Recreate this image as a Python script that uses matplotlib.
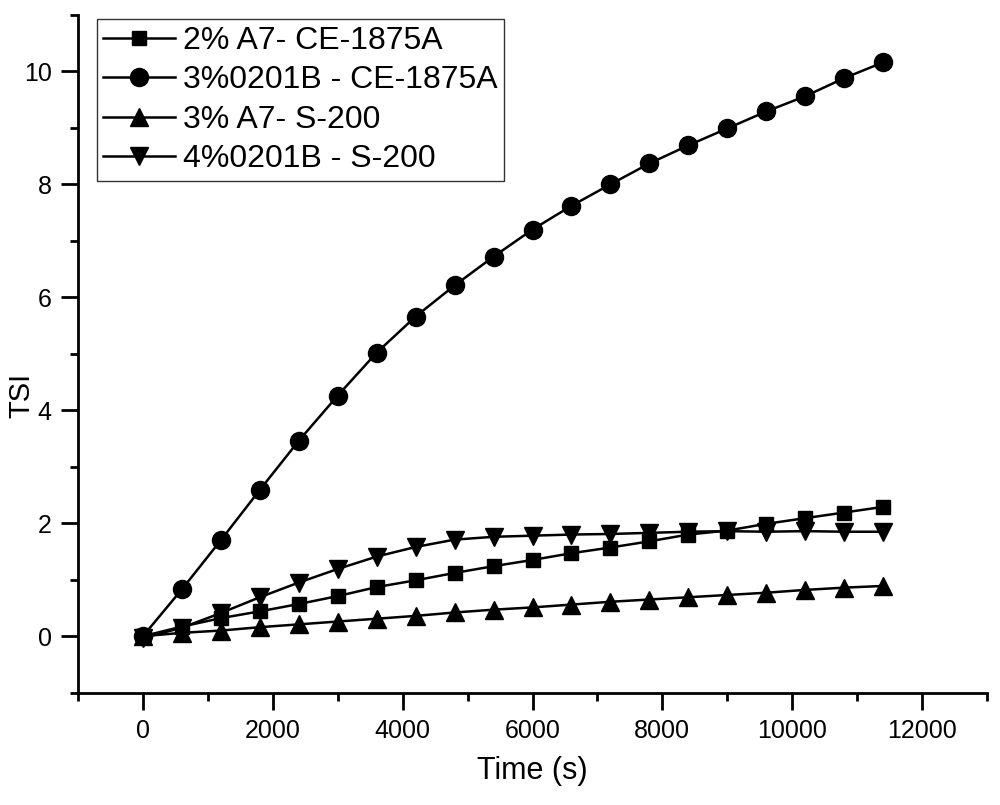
import matplotlib
matplotlib.use("Agg")
import matplotlib.pyplot as plt
from matplotlib.ticker import MultipleLocator

plt.rcParams['font.family'] = ['Liberation Sans', 'DejaVu Sans']

# time points (s)
t = [0, 600, 1200, 1800, 2400, 3000, 3600, 4200, 4800, 5400, 6000,
     6600, 7200, 7800, 8400, 9000, 9600, 10200, 10800, 11400]

# TSI values for each sample
a7_ce = [0, 0.17, 0.32, 0.44, 0.57, 0.71, 0.87, 0.99, 1.12, 1.24, 1.35,
         1.47, 1.57, 1.68, 1.80, 1.87, 1.99, 2.09, 2.19, 2.29]
b0201_ce = [0, 0.83, 1.70, 2.59, 3.46, 4.26, 5.02, 5.66, 6.21, 6.72, 7.20,
            7.62, 8.00, 8.37, 8.69, 8.99, 9.29, 9.56, 9.88, 10.16]
a7_s200 = [0, 0.06, 0.10, 0.16, 0.21, 0.26, 0.31, 0.36, 0.42, 0.47, 0.51,
           0.56, 0.61, 0.65, 0.69, 0.73, 0.77, 0.82, 0.86, 0.89]
b0201_s200 = [-0.03, 0.15, 0.41, 0.69, 0.95, 1.19, 1.41, 1.58, 1.71, 1.76, 1.78,
              1.80, 1.81, 1.83, 1.85, 1.86, 1.85, 1.86, 1.85, 1.85]

labels = ["2% A7- CE-1875A", "3%0201B - CE-1875A", "3% A7- S-200", "4%0201B - S-200"]

fig = plt.figure(figsize=(10, 8.05), dpi=100)
ax = fig.add_axes([0.078, 0.1395, 0.909, 0.842])

ax.plot(t, a7_ce, color='black', lw=1.8, marker='s', ms=10, label=labels[0])
ax.plot(t, b0201_ce, color='black', lw=1.8, marker='o', ms=13, label=labels[1])
ax.plot(t, a7_s200, color='black', lw=1.8, marker='^', ms=13, label=labels[2])
ax.plot(t, b0201_s200, color='black', lw=1.8, marker='v', ms=13, label=labels[3])

ax.set_xlim(-1000, 13000)
ax.set_ylim(-1, 11)
ax.xaxis.set_major_locator(MultipleLocator(2000))
ax.xaxis.set_minor_locator(MultipleLocator(1000))
ax.yaxis.set_major_locator(MultipleLocator(2))
ax.yaxis.set_minor_locator(MultipleLocator(1))

ax.spines['top'].set_visible(False)
ax.spines['right'].set_visible(False)
ax.spines['left'].set_linewidth(2)
ax.spines['bottom'].set_linewidth(2)
ax.tick_params(which='major', direction='out', length=12, width=2, labelsize=18, pad=7)
ax.tick_params(which='minor', direction='out', length=6, width=2)

ax.set_xlabel("Time (s)", fontsize=22)
ax.set_ylabel("TSI", fontsize=21)
ax.xaxis.set_label_coords(0.5, -0.093)
ax.yaxis.set_label_coords(-0.047, 0.439)

leg = ax.legend(loc='upper left', bbox_to_anchor=(0.097, 0.976),
                bbox_transform=fig.transFigure, borderaxespad=0,
                fontsize=23, frameon=True, fancybox=False, handlelength=2.25,
                handletextpad=0.25, labelspacing=0.3, borderpad=0.2)
leg.get_frame().set_edgecolor('black')
leg.get_frame().set_linewidth(1)

fig.savefig("out.png", dpi=100)
